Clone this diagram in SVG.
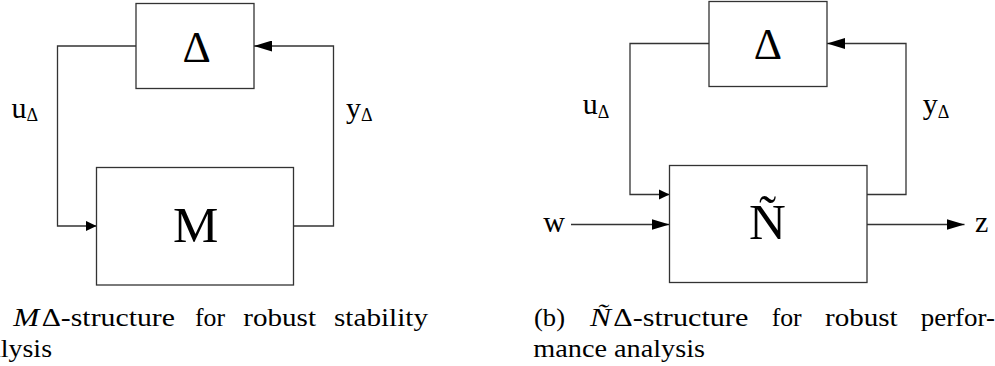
<svg xmlns="http://www.w3.org/2000/svg" width="995" height="366" viewBox="0 0 995 366">
<style>
.box{fill:#fff;stroke:#333;stroke-width:1.3}
.wire{fill:none;stroke:#333;stroke-width:1.3}
text{font-family:"Liberation Serif","DejaVu Serif","Noto Serif",serif;fill:#000}
.big{text-anchor:middle}
.lbl{font-size:30px}
.sub{font-size:18px}
.cap{font-size:26px}
.it{font-style:italic}
</style>
<defs>
<marker id="ab" markerUnits="userSpaceOnUse" markerWidth="18" markerHeight="11" refX="18" refY="5.5" orient="auto"><path d="M0,0 L18,5.5 L0,11 Z" fill="#000"/></marker>
<marker id="as" markerUnits="userSpaceOnUse" markerWidth="11" markerHeight="11" refX="11" refY="5.3" orient="auto"><path d="M0,0 L11,5.3 L0,10.6 Z" fill="#000"/></marker>
</defs>

<g id="connectors">
<path class="wire" d="M136,46 H57.5 V226 H96.5" marker-end="url(#as)"/>
<path class="wire" d="M293.5,226 H333.5 V46 H254" marker-end="url(#ab)"/>
<path class="wire" d="M709,43.5 H630 V194.5 H669.5" marker-end="url(#as)"/>
<path class="wire" d="M867,194.5 H906 V43.5 H827" marker-end="url(#ab)"/>
<path class="wire" d="M571,224.5 H669.5" marker-end="url(#ab)"/>
<path class="wire" d="M867,224.5 H964.5" marker-end="url(#ab)"/>
</g>

<g id="delta-a">
<rect class="box" x="136" y="3.5" width="118" height="85"/>
<text class="big" x="196.7" y="61.7" font-size="44">Δ</text>
</g>
<g id="M">
<rect class="box" x="96.5" y="167.5" width="197" height="117.5"/>
<text class="big" x="195.8" y="242.3" font-size="51">M</text>
</g>
<g id="delta-b">
<rect class="box" x="709" y="1.5" width="118" height="85"/>
<text class="big" x="767.8" y="59.3" font-size="44">Δ</text>
</g>
<g id="N">
<rect class="box" x="669.5" y="165.5" width="197.5" height="117"/>
<text class="big" x="767.5" y="239.3" font-size="51">Ñ</text>
</g>

<g id="labels">
<text class="lbl" x="11.5" y="117.5">u<tspan class="sub" dy="3">Δ</tspan></text>
<text class="lbl" x="346" y="117.5">y<tspan class="sub" dy="3">Δ</tspan></text>
<text class="lbl" x="582.7" y="113.5">u<tspan class="sub" dy="4">Δ</tspan></text>
<text class="lbl" x="922.7" y="113.5">y<tspan class="sub" dy="4">Δ</tspan></text>
<text class="lbl" x="543.3" y="232.3">w</text>
<text class="lbl" x="975" y="232.3">z</text>
</g>

<g id="caption-a">
<text class="cap it" x="13.3" y="326" textLength="26" lengthAdjust="spacingAndGlyphs">M</text>
<text class="cap" x="41.7" y="326" textLength="133.3" lengthAdjust="spacingAndGlyphs">Δ-structure</text>
<text class="cap" x="195" y="326" textLength="30" lengthAdjust="spacingAndGlyphs">for</text>
<text class="cap" x="243.3" y="326" textLength="72.7" lengthAdjust="spacingAndGlyphs">robust</text>
<text class="cap" x="334" y="326" textLength="94" lengthAdjust="spacingAndGlyphs">stability</text>
<text class="cap" x="-38" y="357" textLength="90" lengthAdjust="spacingAndGlyphs">analysis</text>
</g>

<g id="caption-b">
<text class="cap" x="534" y="326" textLength="31" lengthAdjust="spacingAndGlyphs">(b)</text>
<text class="cap it" x="590" y="326" textLength="21" lengthAdjust="spacingAndGlyphs">Ñ</text>
<text class="cap" x="613.3" y="326" textLength="135" lengthAdjust="spacingAndGlyphs">Δ-structure</text>
<text class="cap" x="771.7" y="326" textLength="30" lengthAdjust="spacingAndGlyphs">for</text>
<text class="cap" x="825" y="326" textLength="72.7" lengthAdjust="spacingAndGlyphs">robust</text>
<text class="cap" x="920.7" y="326" textLength="74.3" lengthAdjust="spacingAndGlyphs">perfor-</text>
<text class="cap" x="533.3" y="357" textLength="171.7" lengthAdjust="spacingAndGlyphs">mance analysis</text>
</g>
</svg>
